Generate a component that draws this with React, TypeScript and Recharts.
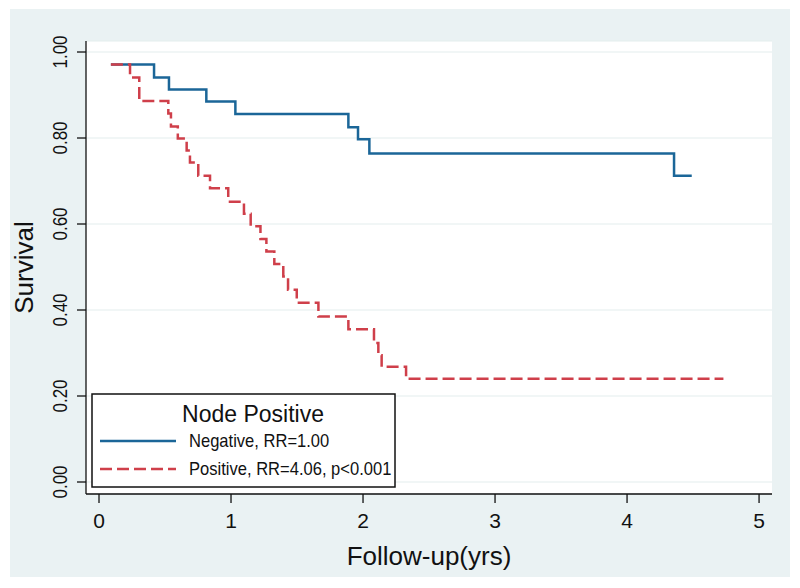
import React from 'react';
import { LineChart, Line, XAxis, YAxis, CartesianGrid } from 'recharts';

// Kaplan-Meier survival by node status
const negTimes = [0.09, 0.417, 0.53, 0.813, 1.033, 1.889, 1.962, 2.048, 4.356, 4.49];
const negSurv = [0.971, 0.941, 0.913, 0.885, 0.856, 0.825, 0.797, 0.764, 0.712, 0.712];

const posTimes = [
    0.09, 0.235, 0.305, 0.525, 0.545, 0.597, 0.664, 0.689, 0.752, 0.841, 0.979, 1.098, 1.149,
    1.223, 1.268, 1.328, 1.396, 1.432, 1.498, 1.662, 1.889, 2.083, 2.116, 2.141, 2.326, 4.73,
];
const posSurv = [
    0.971, 0.941, 0.886, 0.857, 0.827, 0.799, 0.771, 0.743, 0.712, 0.683, 0.652, 0.624, 0.595,
    0.565, 0.536, 0.507, 0.478, 0.447, 0.417, 0.385, 0.355, 0.323, 0.295, 0.268, 0.24, 0.24,
];

const xTicks = [0, 1, 2, 3, 4, 5];
const yTicks = [0, 0.2, 0.4, 0.6, 0.8, 1.0];

const legendTitle = 'Node Positive';
const negLabel = 'Negative, RR=1.00';
const posLabel = 'Positive, RR=4.06, p<0.001';

const negData = negTimes.map((t, i) => ({ t, s: negSurv[i] }));
const posData = posTimes.map((t, i) => ({ t, s: posSurv[i] }));

const FONT = '"Liberation Sans", Arial, Helvetica, sans-serif';
const BLUE = '#1B6698';
const RED = '#CF3F4A';
const DASH = '12 5';

function XTick({ x, y, payload }: any) {
    return (
        <text x={x} y={y} textAnchor="middle" fontSize={21} fontFamily={FONT} fill="#111">
            {payload.value}
        </text>
    );
}

function YTick({ x, y, payload }: any) {
    return (
        <text
            transform={`translate(${x},${y}) rotate(-90) scale(0.85,1)`}
            textAnchor="middle"
            fontSize={20}
            fontFamily={FONT}
            fill="#111"
        >
            {Number(payload.value).toFixed(2)}
        </text>
    );
}

function YTitle({ viewBox }: any) {
    const cx = viewBox.x - 52;
    const cy = viewBox.y + viewBox.height / 2;
    return (
        <text
            transform={`translate(${cx},${cy}) rotate(-90)`}
            textAnchor="middle"
            fontSize={26}
            fontFamily={FONT}
            fill="#111"
        >
            Survival
        </text>
    );
}

function XTitle({ viewBox }: any) {
    const cx = viewBox.x + viewBox.width / 2;
    return (
        <text x={cx} y={viewBox.y + 71} textAnchor="middle" fontSize={26} fontFamily={FONT} fill="#111">
            Follow-up(yrs)
        </text>
    );
}

function KMLegend() {
    return (
        <svg width={800} height={588} style={{ position: 'absolute', left: 0, top: 0, pointerEvents: 'none' }}>
            <rect x={92} y={394} width={303} height={93} fill="#fff" stroke="#111" strokeWidth={1.5} />
            <text x={253} y={422} textAnchor="middle" fontSize={23} fontFamily={FONT} fill="#111">
                {legendTitle}
            </text>
            <line x1={100} x2={176} y1={441} y2={441} stroke={BLUE} strokeWidth={2.5} />
            <text transform="translate(189,447) scale(0.92,1)" fontSize={18} fontFamily={FONT} fill="#111">
                {negLabel}
            </text>
            <line x1={100} x2={176} y1={469} y2={469} stroke={RED} strokeWidth={2.5} strokeDasharray={DASH} />
            <text transform="translate(189,475) scale(0.92,1)" fontSize={18} fontFamily={FONT} fill="#111">
                {posLabel}
            </text>
        </svg>
    );
}

export default function App() {
    return (
        <div style={{ position: 'absolute', left: 0, top: 0, width: 800, height: 588, background: '#fff' }}>
            <div style={{ position: 'absolute', left: 10, top: 9, width: 780, height: 568, background: '#EAF2F3' }} />
            <div style={{ position: 'absolute', left: 0, top: 0 }}>
                <LineChart width={800} height={588} margin={{ top: 41, right: 28, bottom: 93, left: 85 }}>
                    <CartesianGrid horizontal vertical={false} fill="#fff" stroke="#E3EDEE" strokeWidth={1.2} />
                    <XAxis
                        type="number"
                        dataKey="t"
                        domain={[-0.0985, 5.098]}
                        allowDataOverflow
                        ticks={xTicks}
                        height={1}
                        tickSize={9}
                        tickMargin={25}
                        axisLine={{ stroke: '#111', strokeWidth: 1.3 }}
                        tickLine={{ stroke: '#111', strokeWidth: 1.3 }}
                        tick={<XTick />}
                        label={{ content: <XTitle /> }}
                    />
                    <YAxis
                        type="number"
                        dataKey="s"
                        domain={[-0.0279, 1.0256]}
                        allowDataOverflow
                        ticks={yTicks}
                        width={1}
                        tickSize={9}
                        tickMargin={10}
                        axisLine={{ stroke: '#111', strokeWidth: 1.3 }}
                        tickLine={{ stroke: '#111', strokeWidth: 1.3 }}
                        tick={<YTick />}
                        label={{ content: <YTitle /> }}
                    />
                    <Line
                        data={negData}
                        dataKey="s"
                        type="stepAfter"
                        stroke={BLUE}
                        strokeWidth={2.5}
                        dot={false}
                        activeDot={false}
                        isAnimationActive={false}
                    />
                    <Line
                        data={posData}
                        dataKey="s"
                        type="stepAfter"
                        stroke={RED}
                        strokeWidth={2.5}
                        strokeDasharray={DASH}
                        dot={false}
                        activeDot={false}
                        isAnimationActive={false}
                    />
                </LineChart>
            </div>
            <KMLegend />
        </div>
    );
}
